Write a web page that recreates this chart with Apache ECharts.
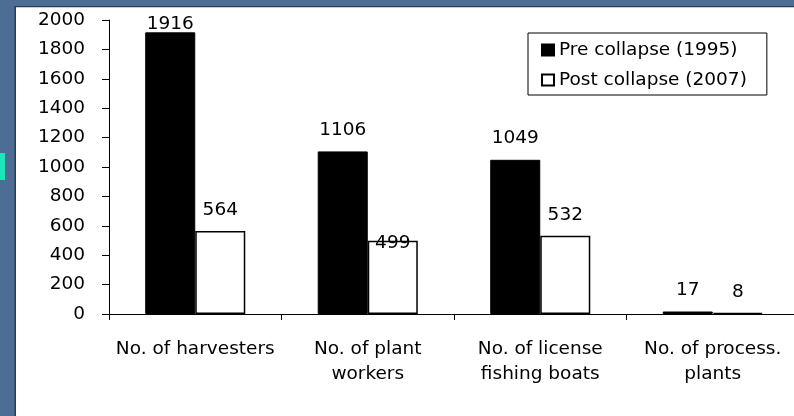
<!DOCTYPE html>
<html>
<head>
<meta charset="utf-8">
<title>Fishery before and after the collapse</title>
<script src="https://cdn.jsdelivr.net/npm/echarts@6/dist/echarts.min.js"></script>
<style>
  html, body { margin: 0; padding: 0; }
  #chart { width: 794px; height: 416px; }
</style>
</head>
<body>
<div id="chart"></div>
<script>
// Categories along the x axis
const categories = [
  'No. of harvesters',
  'No. of plant\nworkers',
  'No. of license\nfishing boats',
  'No. of process.\nplants'
];
// Series names and values
const seriesNames = ['Pre collapse (1995)', 'Post collapse (2007)'];
const preCollapse = [1916, 1106, 1049, 17];
const postCollapse = [564, 499, 532, 8];
// Value axis ticks
const yTicks = [0, 200, 400, 600, 800, 1000, 1200, 1400, 1600, 1800, 2000];

const FONT = 'DejaVu Sans';
const FS = 18.5;

const chart = echarts.init(document.getElementById('chart'), null, { renderer: 'canvas' });

// Label offsets: the tallest bar's label sits tight on the plot top,
// and the plant-workers post-collapse label was nudged down onto its bar
const preData = preCollapse.map((v, i) =>
  i === 0 ? { value: v, label: { distance: -1.5 } } : v
);
const postData = postCollapse.map((v, i) =>
  i === 1 ? { value: v, label: { distance: -12 } } : v
);

chart.setOption({
  animation: false,
  backgroundColor: '#4d6d95',
  textStyle: { fontFamily: FONT },
  graphic: [
    { type: 'rect', silent: true, z: -10, shape: { x: 16, y: 7, width: 778, height: 409 }, style: { fill: '#ffffff' } },
    { type: 'rect', silent: true, z: -9, shape: { x: 14.5, y: 6, width: 1.5, height: 410 }, style: { fill: '#2b3d55' } },
    { type: 'rect', silent: true, z: -9, shape: { x: 14.5, y: 6, width: 780, height: 1.2 }, style: { fill: '#2b3d55' } },
    { type: 'rect', silent: true, z: -9, shape: { x: 0, y: 153, width: 5, height: 27 }, style: { fill: '#1de6bb' } }
  ],
  grid: {
    left: 109,
    top: 20,
    width: 690,
    height: 294,
    outerBoundsMode: 'none',
    containLabel: false
  },
  legend: {
    orient: 'vertical',
    left: 528,
    top: 33,
    padding: [7, 20, 5, 13],
    itemGap: 10,
    itemWidth: 12,
    itemHeight: 11,
    icon: 'rect',
    borderColor: '#000',
    borderWidth: 1,
    backgroundColor: '#fff',
    textStyle: { fontFamily: FONT, fontSize: FS, color: '#000', lineHeight: 20 },
    data: seriesNames
  },
  xAxis: {
    type: 'category',
    data: categories,
    axisLine: { lineStyle: { color: '#000', width: 1 } },
    axisTick: { show: true, length: 6, lineStyle: { color: '#000' } },
    axisLabel: {
      color: '#000',
      fontFamily: FONT,
      fontSize: FS,
      lineHeight: 25,
      margin: 23,
      interval: 0
    },
    splitLine: { show: false }
  },
  yAxis: {
    type: 'value',
    min: yTicks[0],
    max: yTicks[yTicks.length - 1],
    interval: yTicks[1] - yTicks[0],
    axisLine: { show: true, lineStyle: { color: '#000', width: 1 } },
    axisTick: { show: true, length: 7, lineStyle: { color: '#000' } },
    axisLabel: {
      color: '#000',
      fontFamily: FONT,
      fontSize: FS,
      margin: 24,
      formatter: (v) => String(v)
    },
    splitLine: { show: false }
  },
  series: [
    {
      name: seriesNames[0],
      type: 'bar',
      data: preData,
      barGap: '0%',
      barCategoryGap: '42%',
      itemStyle: { color: '#000', borderColor: '#000', borderWidth: 1 },
      label: {
        show: true,
        position: 'top',
        distance: 12,
        color: '#000',
        fontFamily: FONT,
        fontSize: FS
      }
    },
    {
      name: seriesNames[1],
      type: 'bar',
      data: postData,
      barGap: '0%',
      barCategoryGap: '42%',
      itemStyle: { color: '#fff', borderColor: '#000', borderWidth: 1.5 },
      label: {
        show: true,
        position: 'top',
        distance: 11,
        color: '#000',
        fontFamily: FONT,
        fontSize: FS
      }
    }
  ]
});
</script>
</body>
</html>
